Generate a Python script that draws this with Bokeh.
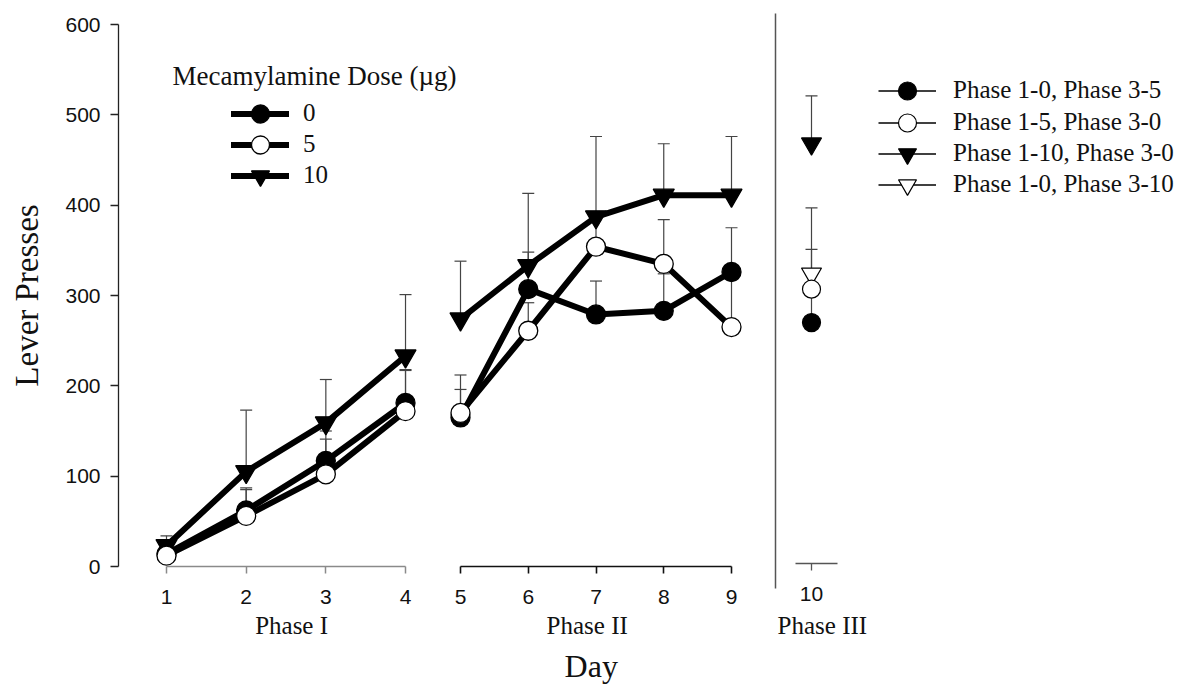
import math

from bokeh.plotting import figure
from bokeh.models import (Range1d, LinearAxis, Legend, LegendItem, Whisker, TeeHead,
                          ColumnDataSource, Label, Arrow)
from bokeh.embed import file_html
from bokeh.resources import INLINE

# ---- data: lever presses (mean and SEM) by mecamylamine dose ----
days_p1 = [1, 2, 3, 4]
dose0_p1 = [14, 62, 117, 181]
dose0_p1_sem = [8, 25, 33, 37]
dose5_p1 = [12, 56, 102, 172]
dose5_p1_sem = [7, 29, 39, 45]
dose10_p1 = [23, 105, 159, 233]
dose10_p1_sem = [11, 68, 48, 68]

days_p2 = [5, 6, 7, 8, 9]
dose0_p2 = [165, 307, 279, 283, 326]
dose0_p2_sem = [31, 41, 37, 41, 49]
dose5_p2 = [170, 261, 354, 335, 265]
dose5_p2_sem = [42, 31, 30, 49, 60]
dose10_p2 = [274, 333, 387, 411, 411]
dose10_p2_sem = [64, 80, 89, 57, 65]

day_p3 = 10
p3_groups = ["Phase 1-0, Phase 3-5", "Phase 1-5, Phase 3-0",
             "Phase 1-10, Phase 3-0", "Phase 1-0, Phase 3-10"]
p3_means = [270, 307, 468, 324]
p3_sem = [30, 44, 53, 73]

dose_labels = ["0", "5", "10"]
phase_labels = ["Phase I", "Phase II", "Phase III"]
y_ticks = [0, 100, 200, 300, 400, 500, 600]

# ---- styling ----
SERIF = "Liberation Serif"
SANS = "Liberation Sans"
TXT = "#111111"
ERR = "#444444"
W, H = 1185, 686
Y_AXIS_PX = 118            # screen column of the press axis
Y0_PX = 566                # screen row of zero presses
PX = 542 / 600             # screen pixels per lever press
P1_SCALE = 79.67           # pixels per day, phase I
P2_SCALE = 67.75           # pixels per day, phase II and III

dose_markers = [("circle", "black"), ("circle", "white"), ("inverted_triangle", "black")]
p3_markers = [("circle", "black"), ("circle", "white"),
              ("inverted_triangle", "black"), ("inverted_triangle", "white")]


def y_of(py):
    """value on the press axis that sits at screen row py"""
    return (Y0_PX - py) / PX


def x1_of(px):
    """phase I day value at screen column px"""
    return 1 + (px - 166) / P1_SCALE


# one frame for the whole chart; each phase has its own day scale
p = figure(width=W, height=H,
           x_range=Range1d(x1_of(0), x1_of(W)),
           y_range=Range1d(y_of(H), y_of(0)),
           min_border_left=0, min_border_right=0, min_border_top=0, min_border_bottom=0,
           x_axis_location=None, y_axis_location=None,
           output_backend="svg", toolbar_location=None)
p.extra_x_ranges = {
    "p2": Range1d(5 - 460 / P2_SCALE, 5 + (W - 460) / P2_SCALE),
    "p3": Range1d(10 - 811 / P2_SCALE, 10 + (W - 811) / P2_SCALE),
}
p.outline_line_color = None
p.grid.visible = False
p.background_fill_color = "white"
p.border_fill_color = "white"

# ---- press axis ----
yax = LinearAxis(ticker=y_ticks, bounds=(0, 600), fixed_location=x1_of(Y_AXIS_PX))
yax.axis_line_color = "#222222"
yax.axis_line_width = 1.3
yax.major_tick_line_color = "#222222"
yax.major_tick_line_width = 1.3
yax.major_tick_in = 0
yax.major_tick_out = 8
yax.minor_tick_line_color = None
yax.major_label_text_font = SANS
yax.major_label_text_font_size = "21px"
yax.major_label_text_color = TXT
yax.major_label_standoff = 10
p.add_layout(yax, "left")
p.add_layout(Label(x=x1_of(26), y=300, text="Lever Presses", angle=math.pi / 2,
                   text_font=SERIF, text_font_size="33px", text_color=TXT,
                   text_align="center", text_baseline="middle"))


# ---- one day axis per phase ----
def day_axis(range_name, ticks, bounds, color, width, at):
    ax = LinearAxis(x_range_name=range_name, ticker=ticks, bounds=bounds, fixed_location=at)
    ax.axis_line_color = color
    ax.axis_line_width = width
    ax.major_tick_line_color = color
    ax.major_tick_line_width = width
    ax.major_tick_in = 0
    ax.major_tick_out = 7
    ax.minor_tick_line_color = None
    ax.major_label_text_font = SANS
    ax.major_label_text_font_size = "21px"
    ax.major_label_text_color = TXT
    ax.major_label_standoff = 16
    p.add_layout(ax, "below")


day_axis("default", days_p1, (days_p1[0], days_p1[-1]), "#8a8a8a", 1.5, 0)
day_axis("p2", days_p2, (days_p2[0], days_p2[-1]), "#111111", 1.6, 0)
day_axis("p3", [day_p3], (day_p3 - 16 / P2_SCALE, day_p3 + 26 / P2_SCALE), "#555555", 1.3,
         y_of(563))

# phase names and the shared "Day" title
for name, rng, xc in zip(phase_labels, ["default", "p2", "p3"], [2.57, 6.87, 10.16]):
    p.add_layout(Label(x=xc, y=y_of(625), x_range_name=rng, text=name,
                       text_font=SERIF, text_font_size="25px", text_color=TXT,
                       text_align="center", text_baseline="middle"))
p.add_layout(Label(x=6.93, y=y_of(665), x_range_name="p2", text="Day",
                   text_font=SERIF, text_font_size="32px", text_color=TXT,
                   text_align="center", text_baseline="middle"))

# separator between Phase II and Phase III
sep_x = day_p3 - 36 / P2_SCALE
p.add_layout(Arrow(end=None, x_start=sep_x, x_end=sep_x, x_range_name="p3",
                   y_start=y_of(13), y_end=y_of(588),
                   line_color="#555555", line_width=1.5))


def add_errors(xs, ys, sems, rng):
    src = ColumnDataSource(dict(x=xs, lower=ys, upper=[y + s for y, s in zip(ys, sems)]))
    p.add_layout(Whisker(source=src, base="x", lower="lower", upper="upper",
                         dimension="height", x_range_name=rng,
                         line_color=ERR, line_width=1.2,
                         upper_head=TeeHead(size=12, line_color=ERR, line_width=1.2),
                         lower_head=None, level="underlay"))


def add_series(xs, ys, marker, fill, rng):
    ln = p.line(xs, ys, line_width=6, line_color="black",
                line_cap="round", line_join="round", x_range_name=rng)
    sc = p.scatter(xs, ys, marker=marker, size=19 if marker == "circle" else 21,
                   fill_color=fill, line_color="black", line_width=1.3, x_range_name=rng)
    return [ln, sc]


# ---- Phase I and Phase II ----
p1_series = [(dose0_p1, dose0_p1_sem), (dose5_p1, dose5_p1_sem), (dose10_p1, dose10_p1_sem)]
p2_series = [(dose0_p2, dose0_p2_sem), (dose5_p2, dose5_p2_sem), (dose10_p2, dose10_p2_sem)]
for ys, sems in p1_series:
    add_errors(days_p1, ys, sems, "default")
for ys, sems in p2_series:
    add_errors(days_p2, ys, sems, "p2")
dose_renderers = {}
for i in [2, 0, 1]:
    marker, fill = dose_markers[i]
    dose_renderers[i] = add_series(days_p1, p1_series[i][0], marker, fill, "default")
    add_series(days_p2, p2_series[i][0], marker, fill, "p2")

# ---- Phase III ----
for i in range(4):
    add_errors([day_p3], [p3_means[i]], [p3_sem[i]], "p3")
p3_renderers = {}
for i in [0, 3, 1, 2]:
    marker, fill = p3_markers[i]
    ln = p.line([day_p3], [p3_means[i]], line_width=1.6, line_color="black", x_range_name="p3")
    sc = p.scatter([day_p3], [p3_means[i]], marker=marker,
                   size=18 if marker == "circle" else 20,
                   fill_color=fill, line_color="black", line_width=1.2, x_range_name="p3")
    p3_renderers[i] = [ln, sc]


# ---- legends: one entry per row so the rows can sit closer than the glyph box ----
def legend_row(label, renderers, left_px, center_py, glyph_width, standoff):
    box = 45
    p.add_layout(Legend(items=[LegendItem(label=label, renderers=renderers)],
                        location=(left_px, H - (center_py + box / 2)),
                        glyph_width=glyph_width, glyph_height=box, label_height=box,
                        label_standoff=standoff, padding=0, margin=0, spacing=0,
                        border_line_color=None, background_fill_alpha=0,
                        label_text_font=SERIF, label_text_font_size="25px",
                        label_text_color=TXT))


p.add_layout(Label(x=x1_of(172), y=y_of(75), text="Mecamylamine Dose (µg)",
                   text_font=SERIF, text_font_size="27px", text_color=TXT,
                   text_baseline="middle", text_align="left"))
for i, cy in zip(range(3), [113, 144, 175]):
    legend_row(dose_labels[i], dose_renderers[i], 231, cy, 58, 14)
for i, cy in zip(range(4), [90, 122, 153, 184]):
    legend_row(p3_groups[i], p3_renderers[i], 878, cy, 58, 17)

open("out.html", "w").write(file_html(p, INLINE))
